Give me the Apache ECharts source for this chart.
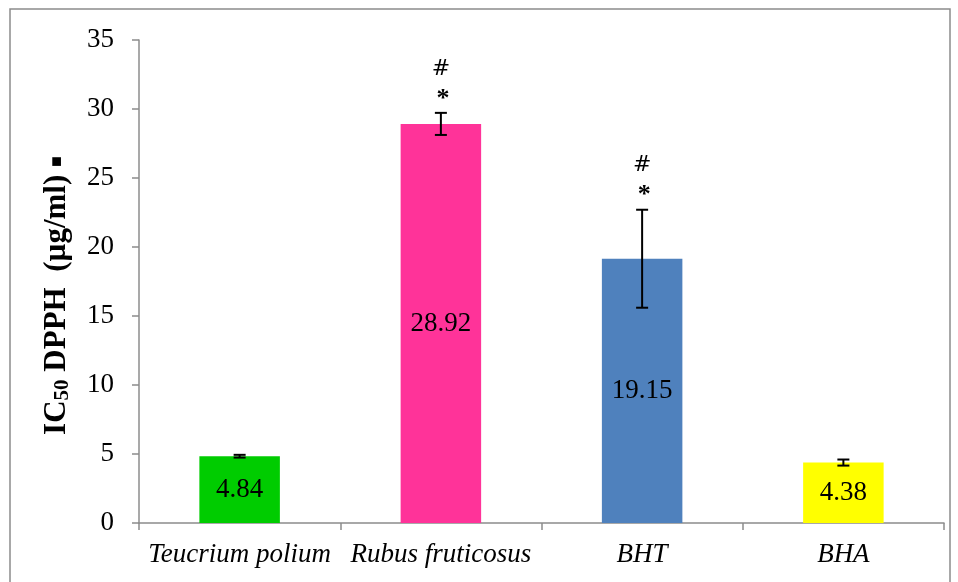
<!DOCTYPE html>
<html><head><meta charset="utf-8">
<script src="https://cdn.jsdelivr.net/npm/echarts@6/dist/echarts.min.js"></script>
<style>html,body{margin:0;padding:0;background:#fff}#c{width:958px;height:582px}</style>
</head><body><div id="c"></div>
<script>
var categories = ['Teucrium polium', 'Rubus fruticosus', 'BHT', 'BHA'];
var values = [4.84, 28.92, 19.15, 4.38];
var errors = [0.1, 0.8, 3.55, 0.22];
var colors = ['#00CC00', '#FF3399', '#4F81BD', '#FFFF00'];
var annotations = [null, ['*', '#'], ['*', '#'], null];
var yTicks = [0, 5, 10, 15, 20, 25, 30, 35];

var chart = echarts.init(document.getElementById('c'));
var font = 'Liberation Serif, Times New Roman, serif';
var errData = categories.map(function (c, i) { return [i, values[i] - errors[i], values[i] + errors[i]]; });

chart.setOption({
  animation: false,
  graphic: [{ type: 'rect', shape: { x: 10, y: 9, width: 940, height: 620 }, style: { fill: 'none', stroke: '#8c8c8c', lineWidth: 1.5 }, silent: true }],
  grid: { left: 139, top: 40, right: 14, bottom: 59 },
  xAxis: {
    type: 'category', data: categories,
    axisLine: { lineStyle: { color: '#8c8c8c', width: 1.5 } },
    axisTick: { show: true, interval: 0, length: 7, lineStyle: { color: '#8c8c8c', width: 1.5 } },
    axisLabel: { interval: 0, hideOverlap: false, fontFamily: font, fontSize: 27, fontStyle: 'italic', color: '#000', margin: 18 }
  },
  yAxis: {
    type: 'value', min: yTicks[0], max: yTicks[yTicks.length - 1], interval: 5,
    axisLine: { show: true, lineStyle: { color: '#8c8c8c', width: 1.5 } },
    axisTick: { show: true, length: 7, lineStyle: { color: '#8c8c8c', width: 1.5 } },
    splitLine: { show: false },
    axisLabel: { fontFamily: font, fontSize: 27, color: '#000', margin: 25 },
    name: '{a|IC}{s|50}{a| DPPH  (µg/ml) }{q|■}',
    nameLocation: 'middle', nameRotate: 90, nameGap: 66,
    nameTextStyle: {
      padding: [0, 28, 0, 0],
      rich: {
        a: { fontFamily: font, fontSize: 31, fontWeight: 'bold', color: '#000', lineHeight: 32 },
        s: { fontFamily: font, fontSize: 21, fontWeight: 'bold', color: '#000', verticalAlign: 'bottom', padding: [12, 0, 0, 0], lineHeight: 32 },
        q: { fontFamily: font, fontSize: 18, color: '#000', lineHeight: 32 }
      }
    }
  },
  series: [{
    type: 'bar', barWidth: '40%',
    data: values.map(function (v, i) { return { value: v, itemStyle: { color: colors[i] } }; }),
    label: { show: true, position: 'inside', fontFamily: font, fontSize: 27, color: '#000', formatter: function (p) { return p.value.toFixed(2); } }
  }, {
    type: 'custom', data: errData, z: 10,
    renderItem: function (params, api) {
      var x = api.value(0);
      var top = api.coord([x, api.value(2)]);
      var bot = api.coord([x, api.value(1)]);
      var hw = 6, st = { stroke: '#000', lineWidth: 2 };
      var ch = [
        { type: 'line', shape: { x1: top[0], y1: top[1], x2: bot[0], y2: bot[1] }, style: st },
        { type: 'line', shape: { x1: top[0] - hw, y1: top[1], x2: top[0] + hw, y2: top[1] }, style: st },
        { type: 'line', shape: { x1: bot[0] - hw, y1: bot[1], x2: bot[0] + hw, y2: bot[1] }, style: st }
      ];
      var ann = annotations[params.dataIndex];
      if (ann) {
        ch.push({ type: 'text', style: { text: ann[0], x: top[0] + 2, y: top[1] - 14, align: 'center', verticalAlign: 'middle', fontFamily: font, fontSize: 26, fontWeight: 'bold', fill: '#000' } });
        ch.push({ type: 'text', style: { text: ann[1], x: top[0], y: top[1] - 44, align: 'center', verticalAlign: 'middle', fontFamily: 'DejaVu Sans, sans-serif', fontSize: 22, fill: '#000' } });
      }
      return { type: 'group', children: ch };
    }
  }]
});
</script></body></html>
